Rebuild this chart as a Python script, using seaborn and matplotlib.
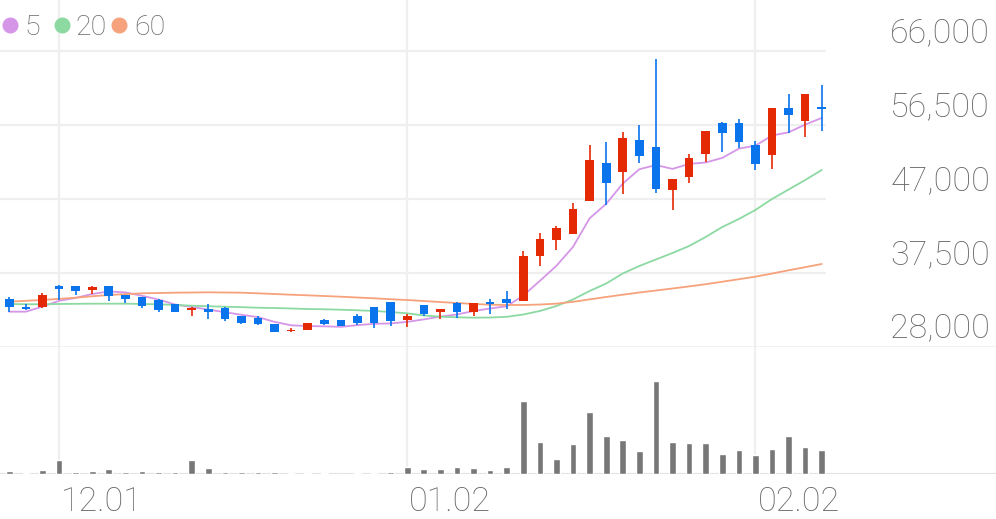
import numpy as np
import pandas as pd
import matplotlib
matplotlib.use("Agg")
import matplotlib.pyplot as plt
from matplotlib.lines import Line2D
import seaborn as sns

# daily candles (KRW), oldest first
opens = [34100, 33150, 33050, 35750, 35750, 35300, 35750, 34650, 34450, 34050,
         33450, 32750, 32850, 33000, 32000, 31700, 30900, 30000, 30100, 31450,
         31450, 32000, 33050, 33700, 31450, 33300, 32400, 33600, 32400, 33800,
         34100, 33900, 39600, 41750, 42450, 46750, 51650, 50500, 54500, 53700,
         48150, 49850, 52750, 56700, 56800, 53950, 52650, 58700, 57050, 58750]
highs = [34450, 33500, 34900, 35950, 35750, 35850, 35850, 34650, 34450, 34100,
         33450, 33100, 33500, 33100, 32000, 31900, 30900, 30350, 31100, 31550,
         31450, 32200, 33150, 33800, 32250, 33300, 32850, 33800, 33600, 34100,
         35100, 40350, 42600, 43550, 46500, 53900, 54350, 55650, 56500, 64950,
         49550, 52750, 55750, 56850, 57250, 54450, 58700, 60450, 60450, 61650]
lows = [32500, 32700, 32950, 34050, 34700, 34800, 33900, 33600, 32950, 32450,
        32450, 32000, 31600, 31250, 30900, 30800, 29900, 29850, 30100, 30750,
        30600, 30750, 30400, 30700, 30500, 31900, 31550, 31750, 32000, 32250,
        32850, 33900, 38400, 40450, 42450, 46750, 46150, 47650, 51650, 47750,
        45600, 49000, 51700, 53050, 53500, 50650, 50850, 55450, 54900, 55750]
closes = [33150, 32900, 34700, 35450, 35150, 35650, 34550, 34100, 33250, 32750,
          32450, 33000, 32400, 31600, 31050, 30950, 29950, 30200, 31100, 30900,
          30600, 31050, 31050, 31350, 31900, 32200, 32850, 32400, 33600, 33500,
          33650, 39700, 41850, 43300, 45650, 52000, 49000, 54850, 52550, 48300,
          49550, 52200, 55750, 55500, 54250, 51500, 58700, 57800, 60450, 58550]

# moving averages as drawn on the chart
ma5 = [32500, 32500, 33150, 33900, 34270, 34770, 35100, 34980, 34540, 34060,
       33420, 33110, 32770, 32440, 32100, 31800, 31190, 30750, 30650, 30620,
       30550, 30770, 30940, 30990, 31190, 31510, 31870, 32140, 32590, 32910,
       33200, 34570, 36460, 38400, 40830, 44500, 46360, 48960, 50810, 51340,
       50850, 51490, 51670, 52260, 53450, 53840, 55140, 55550, 56540, 57400]
ma20 = [33490, 33460, 33450, 33490, 33510, 33530, 33530, 33530, 33490, 33450,
        33360, 33270, 33200, 33140, 33080, 33010, 32970, 32910, 32840, 32810,
        32750, 32680, 32590, 32460, 32290, 32010, 31860, 31780, 31730, 31750,
        31840, 32140, 32590, 33230, 34070, 35160, 36120, 37410, 38370, 39210,
        40040, 40940, 42100, 43380, 44410, 45570, 46980, 48200, 49420, 50710]
ma60 = [33780, 33900, 34000, 34150, 34300, 34480, 34640, 34760, 34860, 34900,
        34940, 34965, 34990, 34965, 34940, 34860, 34770, 34680, 34600, 34515,
        34425, 34320, 34220, 34100, 34000, 33870, 33740, 33615, 33490, 33400,
        33360, 33360, 33420, 33530, 33770, 34080, 34390, 34680, 34965, 35220,
        35480, 35750, 36030, 36350, 36670, 37000, 37400, 37820, 38220, 38630]

# volume, thousand shares
volume = [66, 34, 94, 286, 46, 66, 100, 46, 60, 54,
          40, 294, 120, 54, 40, 46, 54, 26, 26, 20,
          10, 20, 26, 40, 154, 106, 100, 146, 126, 86,
          140, 1466, 654, 314, 606, 1246, 774, 686, 466, 1866,
          654, 634, 626, 406, 480, 386, 506, 766, 540, 480]

price_ticks = [28000, 37500, 47000, 56500, 66000]
date_pos = [3, 24, 45]
date_labels = ["12.01", "01.02", "02.02"]
ma_names = ["5", "20", "60"]

RED = "#e32a05"
BLUE = "#0a74ec"
GREY = "#777777"
TXT = "#686868"
GRID = "#efefef"
ma_colors = {"5": "#d596e8", "20": "#8cd9a2", "60": "#f6a27c"}

sns.set_theme(style="white")
plt.rcParams["font.family"] = ["Roboto", "DejaVu Sans"]

n = len(closes)
df = pd.DataFrame({"idx": np.arange(n), "open": opens, "high": highs,
                   "low": lows, "close": closes, "volume": volume})
df["color"] = np.where(df["close"] >= df["open"], RED, BLUE)
df["body_low"] = np.minimum(df["open"], df["close"])
df["body_h"] = np.maximum((df["close"] - df["open"]).abs(), 200)

ma = pd.DataFrame({"idx": df["idx"], "5": ma5, "20": ma20, "60": ma60})
ma_long = ma.melt(id_vars="idx", var_name="ma", value_name="price")

W, H = 996, 519
fig = plt.figure(figsize=(W / 100, H / 100), dpi=100)
ax = fig.add_axes([0, (H - 346.7) / H, 1, 346.7 / H])
axv = fig.add_axes([0, (H - 474.3) / H, 1, (474.3 - 346.7) / H])

x0, x1 = -0.561, 59.51
grid_end = 49.26

# gridlines
ax.hlines(price_ticks[1:], x0, grid_end, color=GRID, lw=1.6, zorder=0)
ax.axhline(price_ticks[0], color="#eeeeee", lw=1.8, zorder=0)
for p in date_pos:
    ax.axvline(p, color=GRID, lw=1.6, zorder=0)
    axv.axvline(p, color=GRID, lw=1.6, zorder=0)

# moving averages
sns.lineplot(data=ma_long, x="idx", y="price", hue="ma", palette=ma_colors,
             hue_order=ma_names, linewidth=1.3, legend=False, ax=ax, zorder=2)

# candles
ax.vlines(df["idx"], df["low"], df["high"], colors=df["color"], lw=1.2, zorder=3)
ax.bar(df["idx"], df["body_h"], bottom=df["body_low"], width=0.52,
       color=df["color"], linewidth=0, zorder=4)

ax.set_xlim(x0, x1)
ax.set_ylim(28000, 72553)
ax.set_xticks([])
ax.set_yticks([])
ax.set_xlabel("")
ax.set_ylabel("")
for s in ax.spines.values():
    s.set_visible(False)

for v in price_ticks:
    ax.annotate(f"{v:,}", xy=(1, v), xycoords=("axes fraction", "data"),
                xytext=(-6, 9), textcoords="offset pixels", ha="right",
                va="baseline", fontsize=24.5, color=TXT, fontweight="light",
                annotation_clip=False)

# volume
sns.barplot(data=df, x="idx", y="volume", native_scale=True, color=GREY,
            saturation=1, width=0.4, errorbar=None, ax=axv, zorder=2)
axv.axhline(0, color="#e2e2e2", lw=1.5, zorder=1)
axv.set_xlim(x0, x1)
axv.set_ylim(0, max(volume) * 127.3 / 93.3)
axv.set_xticks([])
axv.set_yticks([])
axv.set_xlabel("")
axv.set_ylabel("")
for s in axv.spines.values():
    s.set_visible(False)
axv.patch.set_alpha(0)

for p, lbl in zip(date_pos, date_labels):
    axv.annotate(lbl, xy=(p, 0), xycoords=("data", "axes fraction"),
                 xytext=(2, -36.7), textcoords="offset pixels", ha="left",
                 va="baseline", fontsize=24.5, color=TXT, fontweight="light",
                 annotation_clip=False)

# legend
dot_x = [10, 62, 119]
text_x = [24, 75, 134]
for name, dx, tx in zip(ma_names, dot_x, text_x):
    fig.add_artist(Line2D([dx / W], [1 - 25 / H], marker="o", markersize=10.5,
                          color=ma_colors[name], transform=fig.transFigure))
    fig.text(tx / W, 1 - 35 / H, name, ha="left", va="baseline",
             fontsize=20.5, color=TXT, fontweight="light")

fig.savefig("out.png", dpi=100)
